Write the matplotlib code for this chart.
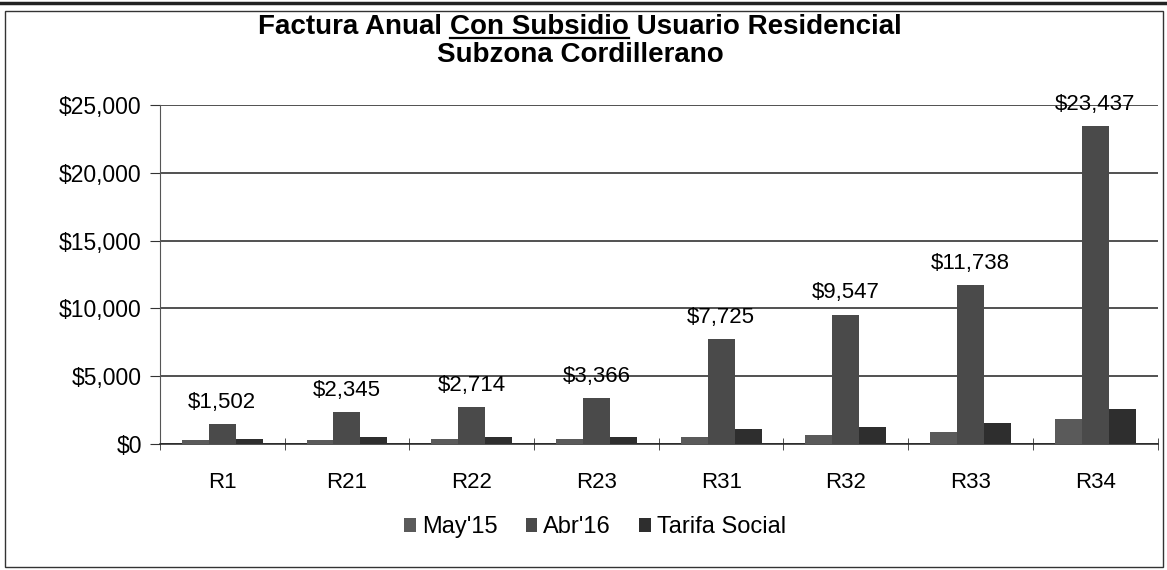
import matplotlib
matplotlib.use("Agg")
import matplotlib.pyplot as plt
import numpy as np
from matplotlib.ticker import FuncFormatter, MultipleLocator, FixedLocator

plt.rcParams['font.family'] = ['Liberation Sans', 'DejaVu Sans']

# datos
categorias = ["R1", "R21", "R22", "R23", "R31", "R32", "R33", "R34"]
may15 = [300, 300, 350, 400, 550, 690, 900, 1840]
abr16 = [1502, 2345, 2714, 3366, 7725, 9547, 11738, 23437]
tarifa_social = [350, 500, 500, 500, 1080, 1280, 1530, 2560]
series = ["May'15", "Abr'16", "Tarifa Social"]
colores = ["#5a5a5a", "#4a4a4a", "#2e2e2e"]

fig = plt.figure(figsize=(11.67, 5.7), dpi=100)
ax = fig.add_axes([0.137, 0.221, 0.855, 0.595])

x = np.arange(len(categorias))
w = 0.216
for i, (vals, nombre, c) in enumerate(zip([may15, abr16, tarifa_social], series, colores)):
    ax.bar(x + (i - 1) * w, vals, w, color=c, label=nombre, zorder=3)

# etiquetas de valor sobre Abr'16
for xi, v in zip(x, abr16):
    ax.annotate("${:,.0f}".format(v), (xi, v), xytext=(0, 8), textcoords="offset points",
                ha="center", va="bottom", fontsize=16)

ax.set_xlim(-0.5, len(categorias) - 0.5)
ax.set_ylim(0, 25000)
ax.yaxis.set_major_locator(MultipleLocator(5000))
ax.yaxis.set_major_formatter(FuncFormatter(lambda v, p: "${:,.0f}".format(v)))
ax.grid(axis="y", color="#222222", linewidth=1.1, zorder=0)

ax.set_xticks(x)
ax.set_xticklabels(categorias, fontsize=16)
ax.xaxis.set_minor_locator(FixedLocator(np.arange(-0.5, len(categorias), 1)))
ax.tick_params(axis="x", which="major", length=0, pad=20)
ax.tick_params(axis="x", which="minor", length=8, direction="inout", color="#333333")
ax.tick_params(axis="y", labelsize=16.5, length=7, color="#333333", pad=6)

for s in ["top", "right"]:
    ax.spines[s].set_visible(False)
ax.spines["left"].set_color("#555555")
ax.spines["bottom"].set_color("#222222")
ax.spines["bottom"].set_linewidth(1.1)

ax.legend(loc="center", bbox_to_anchor=(0.51, 0.075), bbox_transform=fig.transFigure,
          ncol=3, frameon=False, fontsize=17, handlelength=0.5, handleheight=0.5,
          handletextpad=0.25, columnspacing=1.2)

# titulo en tres partes para subrayar "Con Subsidio"
fig.canvas.draw()
r = fig.canvas.get_renderer()
partes = ["Factura Anual ", "Con Subsidio", " Usuario Residencial"]
textos = []
for p in partes:
    t = fig.text(0, 0.953, p, fontsize=20, fontweight="bold", va="center", ha="left")
    textos.append(t)
anchos = [t.get_window_extent(r).width / fig.bbox.width for t in textos]
x0 = 0.497 - sum(anchos) / 2
for t, a in zip(textos, anchos):
    t.set_x(x0)
    x0 += a
bb = textos[1].get_window_extent(r).transformed(fig.transFigure.inverted())
fig.add_artist(plt.Line2D([bb.x0, bb.x1], [bb.y0 + 0.004, bb.y0 + 0.004], color="black",
                          linewidth=1.6, transform=fig.transFigure))
fig.text(0.497, 0.904, "Subzona Cordillerano", fontsize=20, fontweight="bold",
         ha="center", va="center")

# marco
fig.add_artist(plt.Rectangle((0.004, 0.006), 0.993, 0.975, fill=False, edgecolor="#333333",
                             linewidth=1.0, transform=fig.transFigure))
fig.add_artist(plt.Line2D([0, 1], [0.994, 0.994], color="#222222", linewidth=2.5,
                          transform=fig.transFigure))

fig.savefig("out.png", dpi=100)
